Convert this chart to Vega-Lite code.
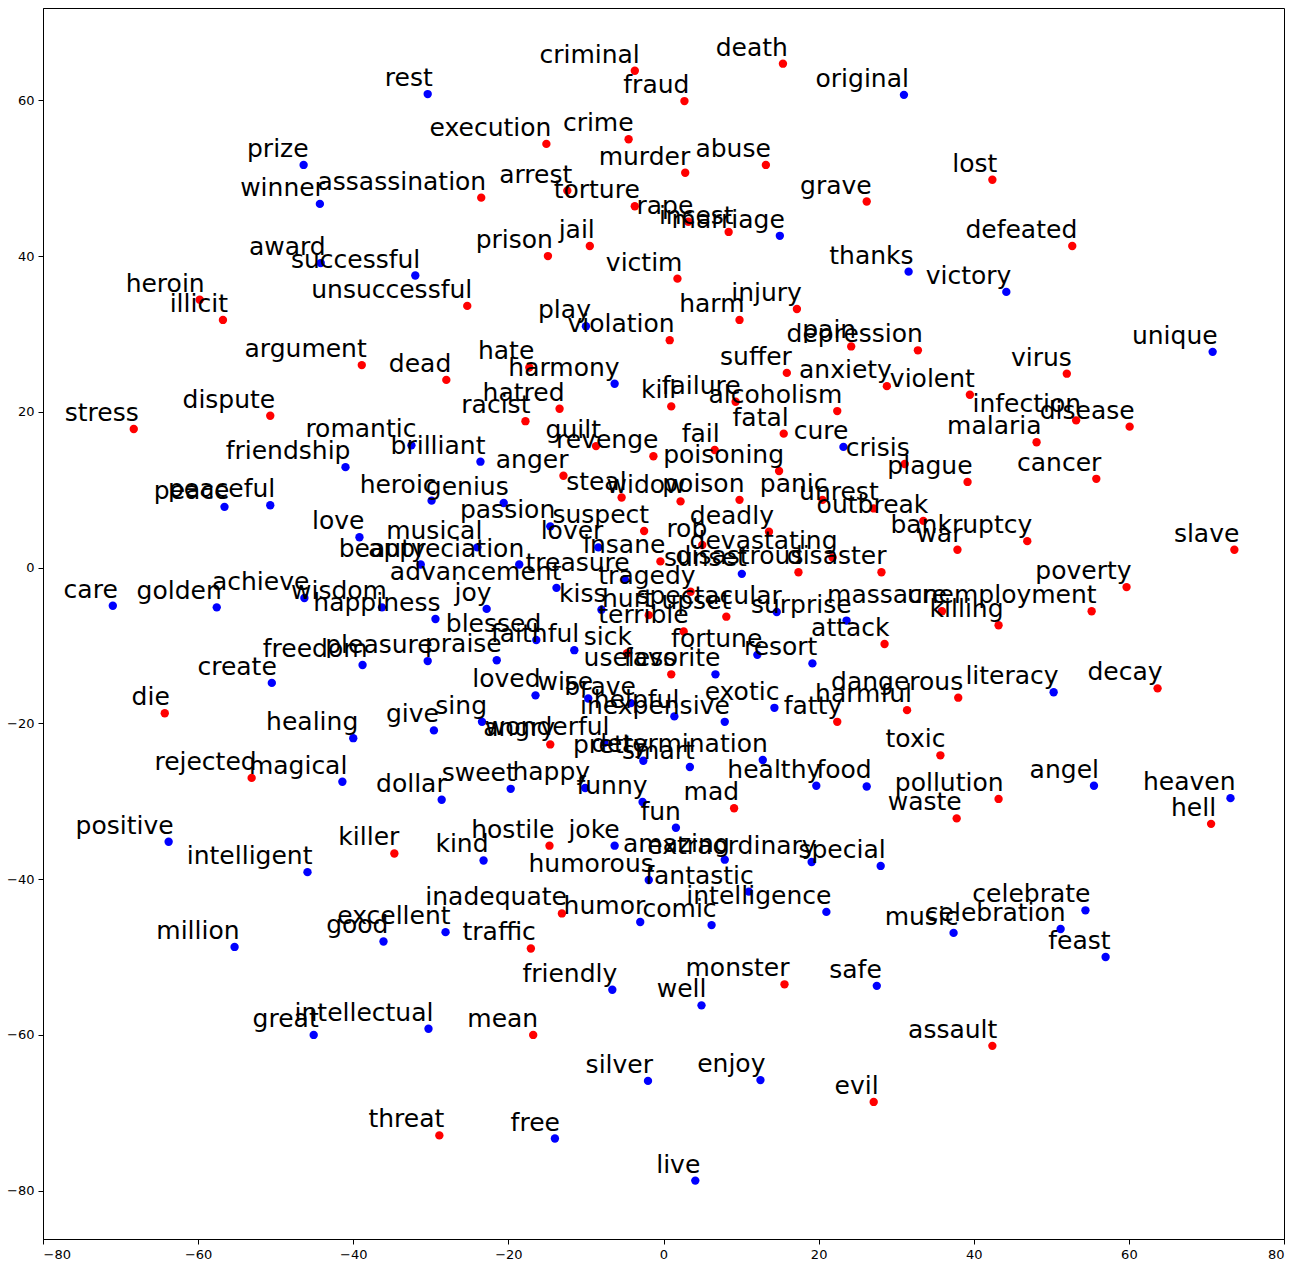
{
  "$schema": "https://vega.github.io/schema/vega-lite/v6.json",
  "width": 1241,
  "height": 1231,
  "autosize": {"type": "none"},
  "padding": {"left": 43, "top": 8, "right": 11, "bottom": 39},
  "background": "white",
  "config": {
    "view": {"stroke": "black", "strokeWidth": 1},
    "axis": {"grid": false, "domainColor": "black", "tickColor": "black", "labelColor": "black", "labelFont": "DejaVu Sans", "labelFontSize": 13, "tickSize": 5, "labelPadding": 4, "title": null}
  },
  "data": {"values": [
    {"w":"prize","x":-46.4,"y":51.7,"c":"b"},
    {"w":"winner","x":-44.3,"y":46.7,"c":"b"},
    {"w":"award","x":-44.2,"y":39.1,"c":"b"},
    {"w":"successful","x":-32.0,"y":37.5,"c":"b"},
    {"w":"heroin","x":-59.8,"y":34.4,"c":"r"},
    {"w":"illicit","x":-56.8,"y":31.8,"c":"r"},
    {"w":"dispute","x":-50.7,"y":19.5,"c":"r"},
    {"w":"stress","x":-68.3,"y":17.8,"c":"r"},
    {"w":"rest","x":-30.4,"y":60.8,"c":"b"},
    {"w":"criminal","x":-3.7,"y":63.8,"c":"r"},
    {"w":"execution","x":-15.1,"y":54.4,"c":"r"},
    {"w":"crime","x":-4.5,"y":55.0,"c":"r"},
    {"w":"assassination","x":-23.5,"y":47.5,"c":"r"},
    {"w":"arrest","x":-12.4,"y":48.4,"c":"r"},
    {"w":"torture","x":-3.7,"y":46.4,"c":"r"},
    {"w":"jail","x":-9.5,"y":41.3,"c":"r"},
    {"w":"prison","x":-14.9,"y":40.0,"c":"r"},
    {"w":"unsuccessful","x":-25.3,"y":33.6,"c":"r"},
    {"w":"play","x":-10.0,"y":31.0,"c":"b"},
    {"w":"argument","x":-38.9,"y":26.0,"c":"r"},
    {"w":"dead","x":-28.0,"y":24.1,"c":"r"},
    {"w":"hate","x":-17.3,"y":25.7,"c":"r"},
    {"w":"harmony","x":-6.3,"y":23.6,"c":"b"},
    {"w":"hatred","x":-13.4,"y":20.4,"c":"r"},
    {"w":"racist","x":-17.8,"y":18.8,"c":"r"},
    {"w":"kill","x":1.0,"y":20.7,"c":"r"},
    {"w":"death","x":15.4,"y":64.7,"c":"r"},
    {"w":"fraud","x":2.7,"y":59.9,"c":"r"},
    {"w":"original","x":31.0,"y":60.7,"c":"b"},
    {"w":"murder","x":2.8,"y":50.7,"c":"r"},
    {"w":"abuse","x":13.2,"y":51.7,"c":"r"},
    {"w":"grave","x":26.2,"y":47.0,"c":"r"},
    {"w":"rape","x":3.2,"y":44.4,"c":"r"},
    {"w":"incest","x":8.4,"y":43.1,"c":"r"},
    {"w":"marriage","x":15.0,"y":42.6,"c":"b"},
    {"w":"victim","x":1.8,"y":37.1,"c":"r"},
    {"w":"thanks","x":31.6,"y":38.0,"c":"b"},
    {"w":"harm","x":9.8,"y":31.8,"c":"r"},
    {"w":"injury","x":17.2,"y":33.2,"c":"r"},
    {"w":"violation","x":0.8,"y":29.2,"c":"r"},
    {"w":"pain","x":24.2,"y":28.4,"c":"r"},
    {"w":"depression","x":32.8,"y":27.9,"c":"r"},
    {"w":"suffer","x":15.9,"y":25.0,"c":"r"},
    {"w":"anxiety","x":28.8,"y":23.3,"c":"r"},
    {"w":"violent","x":39.5,"y":22.2,"c":"r"},
    {"w":"failure","x":9.3,"y":21.3,"c":"r"},
    {"w":"alcoholism","x":22.4,"y":20.1,"c":"r"},
    {"w":"fatal","x":15.5,"y":17.2,"c":"r"},
    {"w":"lost","x":42.4,"y":49.8,"c":"r"},
    {"w":"defeated","x":52.7,"y":41.3,"c":"r"},
    {"w":"victory","x":44.2,"y":35.4,"c":"b"},
    {"w":"unique","x":70.8,"y":27.7,"c":"b"},
    {"w":"virus","x":52.0,"y":24.9,"c":"r"},
    {"w":"infection","x":53.2,"y":18.9,"c":"r"},
    {"w":"disease","x":60.1,"y":18.1,"c":"r"},
    {"w":"malaria","x":48.1,"y":16.1,"c":"r"},
    {"w":"cancer","x":55.8,"y":11.4,"c":"r"},
    {"w":"plague","x":39.2,"y":11.0,"c":"r"},
    {"w":"slave","x":73.6,"y":2.3,"c":"r"},
    {"w":"bankruptcy","x":46.9,"y":3.4,"c":"r"},
    {"w":"poverty","x":59.7,"y":-2.5,"c":"r"},
    {"w":"unemployment","x":55.2,"y":-5.6,"c":"r"},
    {"w":"killing","x":43.2,"y":-7.4,"c":"r"},
    {"w":"literacy","x":50.3,"y":-16.0,"c":"b"},
    {"w":"decay","x":63.7,"y":-15.5,"c":"r"},
    {"w":"angel","x":55.5,"y":-28.0,"c":"b"},
    {"w":"heaven","x":73.1,"y":-29.6,"c":"b"},
    {"w":"hell","x":70.6,"y":-32.9,"c":"r"},
    {"w":"pollution","x":43.2,"y":-29.7,"c":"r"},
    {"w":"waste","x":37.8,"y":-32.2,"c":"r"},
    {"w":"celebrate","x":54.4,"y":-44.0,"c":"b"},
    {"w":"celebration","x":51.2,"y":-46.4,"c":"b"},
    {"w":"feast","x":57.0,"y":-50.0,"c":"b"},
    {"w":"assault","x":42.4,"y":-61.4,"c":"r"},
    {"w":"fun","x":1.6,"y":-33.4,"c":"b"},
    {"w":"amazing","x":7.9,"y":-37.5,"c":"b"},
    {"w":"extraordinary","x":19.1,"y":-37.8,"c":"b"},
    {"w":"special","x":28.0,"y":-38.3,"c":"b"},
    {"w":"fantastic","x":11.0,"y":-41.6,"c":"b"},
    {"w":"intelligence","x":21.0,"y":-44.2,"c":"b"},
    {"w":"comic","x":6.2,"y":-45.9,"c":"b"},
    {"w":"music","x":37.4,"y":-46.9,"c":"b"},
    {"w":"monster","x":15.6,"y":-53.5,"c":"r"},
    {"w":"safe","x":27.5,"y":-53.7,"c":"b"},
    {"w":"well","x":4.9,"y":-56.2,"c":"b"},
    {"w":"enjoy","x":12.5,"y":-65.8,"c":"b"},
    {"w":"evil","x":27.1,"y":-68.6,"c":"r"},
    {"w":"live","x":4.1,"y":-78.7,"c":"b"},
    {"w":"killer","x":-34.7,"y":-36.7,"c":"r"},
    {"w":"kind","x":-23.2,"y":-37.6,"c":"b"},
    {"w":"hostile","x":-14.7,"y":-35.7,"c":"r"},
    {"w":"joke","x":-6.3,"y":-35.7,"c":"b"},
    {"w":"humorous","x":-1.9,"y":-40.1,"c":"b"},
    {"w":"inadequate","x":-13.1,"y":-44.4,"c":"r"},
    {"w":"humor","x":-3.0,"y":-45.5,"c":"b"},
    {"w":"excellent","x":-28.1,"y":-46.8,"c":"b"},
    {"w":"good","x":-36.1,"y":-48.0,"c":"b"},
    {"w":"traffic","x":-17.1,"y":-48.9,"c":"r"},
    {"w":"friendly","x":-6.6,"y":-54.2,"c":"b"},
    {"w":"intellectual","x":-30.3,"y":-59.2,"c":"b"},
    {"w":"mean","x":-16.8,"y":-60.0,"c":"r"},
    {"w":"silver","x":-2.0,"y":-65.9,"c":"b"},
    {"w":"threat","x":-28.9,"y":-72.9,"c":"r"},
    {"w":"free","x":-14.0,"y":-73.3,"c":"b"},
    {"w":"positive","x":-63.8,"y":-35.2,"c":"b"},
    {"w":"intelligent","x":-45.9,"y":-39.1,"c":"b"},
    {"w":"million","x":-55.3,"y":-48.7,"c":"b"},
    {"w":"great","x":-45.1,"y":-60.0,"c":"b"},
    {"w":"friendship","x":-41.0,"y":12.9,"c":"b"},
    {"w":"peace","x":-56.6,"y":7.8,"c":"b"},
    {"w":"peaceful","x":-50.7,"y":8.0,"c":"b"},
    {"w":"care","x":-71.0,"y":-4.9,"c":"b"},
    {"w":"golden","x":-57.6,"y":-5.1,"c":"b"},
    {"w":"achieve","x":-46.3,"y":-3.9,"c":"b"},
    {"w":"wisdom","x":-36.3,"y":-5.1,"c":"b"},
    {"w":"happiness","x":-29.4,"y":-6.6,"c":"b"},
    {"w":"freedom","x":-38.8,"y":-12.5,"c":"b"},
    {"w":"pleasure","x":-30.4,"y":-12.0,"c":"b"},
    {"w":"create","x":-50.5,"y":-14.8,"c":"b"},
    {"w":"die","x":-64.3,"y":-18.7,"c":"r"},
    {"w":"healing","x":-40.0,"y":-21.9,"c":"b"},
    {"w":"rejected","x":-53.1,"y":-27.0,"c":"r"},
    {"w":"magical","x":-41.4,"y":-27.5,"c":"b"},
    {"w":"romantic","x":-32.5,"y":15.7,"c":"b"},
    {"w":"brilliant","x":-23.6,"y":13.6,"c":"b"},
    {"w":"guilt","x":-8.7,"y":15.6,"c":"r"},
    {"w":"revenge","x":-1.3,"y":14.3,"c":"r"},
    {"w":"anger","x":-12.9,"y":11.8,"c":"r"},
    {"w":"heroic","x":-29.9,"y":8.6,"c":"b"},
    {"w":"genius","x":-20.6,"y":8.3,"c":"b"},
    {"w":"steal","x":-5.4,"y":9.0,"c":"r"},
    {"w":"widow","x":2.2,"y":8.5,"c":"r"},
    {"w":"poison","x":9.8,"y":8.7,"c":"r"},
    {"w":"passion","x":-14.6,"y":5.3,"c":"b"},
    {"w":"suspect","x":-2.5,"y":4.7,"c":"r"},
    {"w":"love","x":-39.2,"y":3.9,"c":"b"},
    {"w":"lover","x":-8.4,"y":2.6,"c":"b"},
    {"w":"musical","x":-24.0,"y":2.6,"c":"b"},
    {"w":"beauty","x":-31.3,"y":0.4,"c":"b"},
    {"w":"appreciation","x":-18.6,"y":0.4,"c":"b"},
    {"w":"insane","x":-0.4,"y":0.8,"c":"r"},
    {"w":"advancement","x":-13.8,"y":-2.6,"c":"b"},
    {"w":"treasure","x":-5.0,"y":-1.5,"c":"b"},
    {"w":"tragedy","x":3.5,"y":-3.1,"c":"r"},
    {"w":"sunset","x":10.1,"y":-0.8,"c":"b"},
    {"w":"joy","x":-22.8,"y":-5.3,"c":"b"},
    {"w":"kiss","x":-8.0,"y":-5.4,"c":"b"},
    {"w":"hurt","x":-1.9,"y":-6.1,"c":"r"},
    {"w":"upset","x":8.1,"y":-6.3,"c":"r"},
    {"w":"spectacular","x":14.6,"y":-5.7,"c":"b"},
    {"w":"terrible","x":2.6,"y":-8.2,"c":"r"},
    {"w":"blessed","x":-16.4,"y":-9.3,"c":"b"},
    {"w":"faithful","x":-11.5,"y":-10.6,"c":"b"},
    {"w":"sick","x":-4.7,"y":-11.0,"c":"r"},
    {"w":"useless","x":1.0,"y":-13.7,"c":"r"},
    {"w":"favorite","x":6.7,"y":-13.7,"c":"b"},
    {"w":"praise","x":-21.5,"y":-11.9,"c":"b"},
    {"w":"fortune","x":12.1,"y":-11.2,"c":"b"},
    {"w":"resort","x":19.2,"y":-12.3,"c":"b"},
    {"w":"loved","x":-16.5,"y":-16.4,"c":"b"},
    {"w":"wise","x":-9.7,"y":-16.8,"c":"b"},
    {"w":"brave","x":-4.2,"y":-17.4,"c":"b"},
    {"w":"helpful","x":1.4,"y":-19.1,"c":"b"},
    {"w":"inexpensive","x":7.9,"y":-19.8,"c":"b"},
    {"w":"exotic","x":14.3,"y":-18.0,"c":"b"},
    {"w":"fatty","x":22.4,"y":-19.8,"c":"r"},
    {"w":"harmful","x":31.4,"y":-18.3,"c":"r"},
    {"w":"dangerous","x":38.0,"y":-16.7,"c":"r"},
    {"w":"sing","x":-23.4,"y":-19.8,"c":"b"},
    {"w":"give","x":-29.6,"y":-20.9,"c":"b"},
    {"w":"angry","x":-14.6,"y":-22.7,"c":"r"},
    {"w":"wonderful","x":-7.6,"y":-22.5,"c":"b"},
    {"w":"pretty","x":-2.6,"y":-24.8,"c":"b"},
    {"w":"smart","x":3.4,"y":-25.6,"c":"b"},
    {"w":"determination","x":12.8,"y":-24.7,"c":"b"},
    {"w":"healthy","x":19.7,"y":-28.0,"c":"b"},
    {"w":"food","x":26.2,"y":-28.1,"c":"b"},
    {"w":"toxic","x":35.7,"y":-24.1,"c":"r"},
    {"w":"sweet","x":-19.7,"y":-28.4,"c":"b"},
    {"w":"happy","x":-10.1,"y":-28.3,"c":"b"},
    {"w":"dollar","x":-28.6,"y":-29.8,"c":"b"},
    {"w":"funny","x":-2.7,"y":-30.1,"c":"b"},
    {"w":"mad","x":9.1,"y":-30.9,"c":"r"},
    {"w":"cure","x":23.2,"y":15.5,"c":"b"},
    {"w":"crisis","x":31.1,"y":13.3,"c":"r"},
    {"w":"fail","x":6.6,"y":15.1,"c":"r"},
    {"w":"poisoning","x":14.9,"y":12.4,"c":"r"},
    {"w":"panic","x":20.5,"y":8.7,"c":"r"},
    {"w":"unrest","x":27.1,"y":7.6,"c":"r"},
    {"w":"outbreak","x":33.5,"y":6.0,"c":"r"},
    {"w":"war","x":37.9,"y":2.3,"c":"r"},
    {"w":"deadly","x":13.6,"y":4.6,"c":"r"},
    {"w":"rob","x":5.0,"y":2.9,"c":"r"},
    {"w":"devastating","x":21.8,"y":1.3,"c":"r"},
    {"w":"disastrous","x":17.4,"y":-0.6,"c":"r"},
    {"w":"disaster","x":28.1,"y":-0.6,"c":"r"},
    {"w":"surprise","x":23.6,"y":-6.8,"c":"b"},
    {"w":"massacre","x":35.9,"y":-5.6,"c":"r"},
    {"w":"attack","x":28.5,"y":-9.8,"c":"r"}
  ]},
  "encoding": {
    "x": {"field": "x", "type": "quantitative", "scale": {"domain": [-80, 80], "nice": false, "zero": false}, "axis": {"values": [-80, -60, -40, -20, 0, 20, 40, 60, 80]}},
    "y": {"field": "y", "type": "quantitative", "scale": {"domain": [-86.2, 71.85], "nice": false, "zero": false}, "axis": {"values": [-80, -60, -40, -20, 0, 20, 40, 60]}}
  },
  "layer": [
    {
      "mark": {"type": "circle", "size": 70, "opacity": 1},
      "encoding": {
        "color": {"field": "c", "type": "nominal", "scale": {"domain": ["r", "b"], "range": ["#ff0000", "#0000ff"]}, "legend": null}
      }
    },
    {
      "mark": {"type": "text", "align": "right", "baseline": "alphabetic", "dx": 5, "dy": -8, "font": "DejaVu Sans", "fontSize": 25, "color": "black"},
      "encoding": {"text": {"field": "w", "type": "nominal"}}
    }
  ]
}
